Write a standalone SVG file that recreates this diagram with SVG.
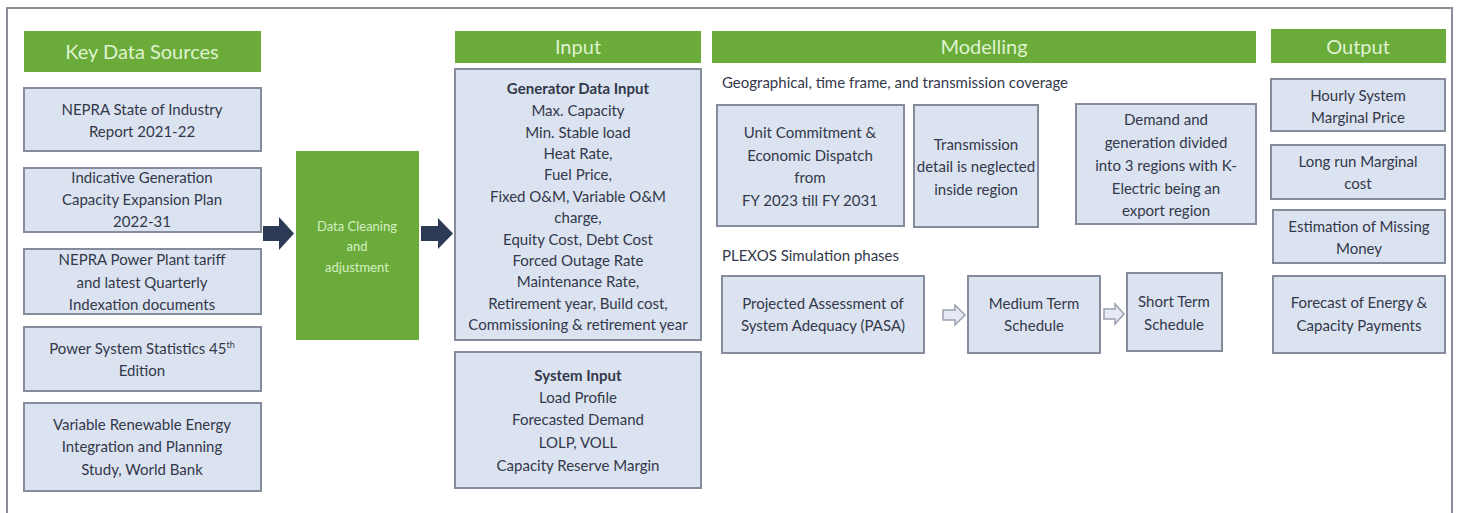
<svg xmlns="http://www.w3.org/2000/svg" width="1461" height="513" viewBox="0 0 1461 513">
<style>
.hdr{fill:#6aab3a}
.ht{font-family:Lato,"Liberation Sans",sans-serif;font-size:20px;fill:#dff3cf;text-anchor:middle}
.box{fill:#dbe3f1;stroke:#878c9c;stroke-width:2}
.t{font-family:Lato,"Liberation Sans",sans-serif;font-size:15px;fill:#33384a;text-anchor:middle}
.tl{font-family:Lato,"Liberation Sans",sans-serif;font-size:15px;fill:#33384a}
.b{font-weight:bold}
.dc{font-family:Lato,"Liberation Sans",sans-serif;font-size:13px;fill:#d6efc4;text-anchor:middle}
.nav{fill:#2c3a56}
.hol{fill:#e4e9f3;stroke:#9aa0b0;stroke-width:1.5}
</style>
<rect width="1461" height="513" fill="#ffffff"/>
<path d="M7 513 V8 H1452 V513" fill="none" stroke="#8a8e98" stroke-width="2"/>

<g id="sources">
<g id="hdr-sources"><rect class="hdr" x="24" y="31" width="237" height="41"/><text class="ht" x="142" y="59" font-size="21">Key Data Sources</text></g>
<g id="src1"><rect class="box" x="24" y="88" width="237" height="63"/><text class="t" x="142" y="115">NEPRA State of Industry</text><text class="t" x="142" y="137">Report 2021-22</text></g>
<g id="src2"><rect class="box" x="24" y="168" width="237" height="64"/><text class="t" x="142" y="183">Indicative Generation</text><text class="t" x="142" y="205">Capacity Expansion Plan</text><text class="t" x="142" y="227">2022-31</text></g>
<g id="src3"><rect class="box" x="24" y="249" width="237" height="65"/><text class="t" x="142" y="265">NEPRA Power Plant tariff</text><text class="t" x="142" y="288">and latest Quarterly</text><text class="t" x="142" y="310">Indexation documents</text></g>
<g id="src4"><rect class="box" x="24" y="327" width="237" height="64"/><text class="t" x="142" y="354">Power System Statistics 45<tspan font-size="9" dy="-6">th</tspan></text><text class="t" x="142" y="376">Edition</text></g>
<g id="src5"><rect class="box" x="24" y="403" width="237" height="88"/><text class="t" x="142" y="430">Variable Renewable Energy</text><text class="t" x="142" y="452">Integration and Planning</text><text class="t" x="142" y="475">Study, World Bank</text></g>
</g>

<g id="cleaning"><rect class="hdr" x="296" y="151" width="123" height="189"/><text class="dc" x="357" y="231">Data Cleaning</text><text class="dc" x="357" y="251">and</text><text class="dc" x="357" y="272">adjustment</text></g>

<g id="input">
<g id="hdr-input"><rect class="hdr" x="455" y="31" width="246" height="32"/><text class="ht" x="578" y="54">Input</text></g>
<g id="generator"><rect class="box" x="455" y="69" width="246" height="271"/>
<text class="t b" x="578" y="94">Generator Data Input</text>
<text class="t" x="578" y="116">Max. Capacity</text>
<text class="t" x="578" y="138">Min. Stable load</text>
<text class="t" x="578" y="159">Heat Rate,</text>
<text class="t" x="578" y="180">Fuel Price,</text>
<text class="t" x="578" y="202">Fixed O&amp;M, Variable O&amp;M</text>
<text class="t" x="578" y="223">charge,</text>
<text class="t" x="578" y="245">Equity Cost, Debt Cost</text>
<text class="t" x="578" y="266">Forced Outage Rate</text>
<text class="t" x="578" y="287">Maintenance Rate,</text>
<text class="t" x="578" y="309">Retirement year, Build cost,</text>
<text class="t" x="578" y="330">Commissioning &amp; retirement year</text>
</g>
<g id="system"><rect class="box" x="455" y="352" width="246" height="136"/>
<text class="t b" x="578" y="381">System Input</text>
<text class="t" x="578" y="403">Load Profile</text>
<text class="t" x="578" y="425">Forecasted Demand</text>
<text class="t" x="578" y="448">LOLP, VOLL</text>
<text class="t" x="578" y="471">Capacity Reserve Margin</text>
</g>
</g>

<g id="modelling">
<g id="hdr-modelling"><rect class="hdr" x="712" y="31" width="544" height="32"/><text class="ht" x="984" y="54">Modelling</text></g>
<text class="tl" x="722" y="88">Geographical, time frame, and transmission coverage</text>
<g id="m1"><rect class="box" x="717" y="105" width="187" height="121"/><text class="t" x="810" y="138">Unit Commitment &amp;</text><text class="t" x="810" y="161">Economic Dispatch</text><text class="t" x="810" y="183">from</text><text class="t" x="810" y="206">FY 2023 till FY 2031</text></g>
<g id="m2"><rect class="box" x="914" y="105" width="124" height="122"/><text class="t" x="976" y="150" font-size="14.5">Transmission</text><text class="t" x="976" y="172" font-size="14.5">detail is neglected</text><text class="t" x="976" y="195" font-size="14.5">inside region</text></g>
<g id="m3"><rect class="box" x="1076" y="104" width="180" height="120"/><text class="t" x="1166" y="125">Demand and</text><text class="t" x="1166" y="148">generation divided</text><text class="t" x="1166" y="171">into 3 regions with K-</text><text class="t" x="1166" y="194">Electric being an</text><text class="t" x="1166" y="216">export region</text></g>
<text class="tl" x="722" y="261">PLEXOS Simulation phases</text>
<g id="pasa"><rect class="box" x="722" y="276" width="202" height="77"/><text class="t" x="823" y="309">Projected Assessment of</text><text class="t" x="823" y="331">System Adequacy (PASA)</text></g>
<g id="mts"><rect class="box" x="968" y="276" width="132" height="77"/><text class="t" x="1034" y="309">Medium Term</text><text class="t" x="1034" y="331">Schedule</text></g>
<g id="sts"><rect class="box" x="1127" y="273" width="95" height="78"/><text class="t" x="1174" y="307">Short Term</text><text class="t" x="1174" y="330">Schedule</text></g>
</g>

<g id="output">
<g id="hdr-output"><rect class="hdr" x="1271" y="29" width="175" height="34"/><text class="ht" x="1358" y="54">Output</text></g>
<g id="o1"><rect class="box" x="1271" y="79" width="174" height="52"/><text class="t" x="1358" y="101">Hourly System</text><text class="t" x="1358" y="123">Marginal Price</text></g>
<g id="o2"><rect class="box" x="1271" y="145" width="174" height="54"/><text class="t" x="1358" y="167">Long run Marginal</text><text class="t" x="1358" y="189">cost</text></g>
<g id="o3"><rect class="box" x="1273" y="210" width="172" height="53"/><text class="t" x="1359" y="232">Estimation of Missing</text><text class="t" x="1359" y="254">Money</text></g>
<g id="o4"><rect class="box" x="1273" y="276" width="172" height="77"/><text class="t" x="1359" y="308">Forecast of Energy &amp;</text><text class="t" x="1359" y="331">Capacity Payments</text></g>
</g>

<g id="connectors">
<polygon class="nav" points="263,226 279,226 279,217 294,233.5 279,250 279,241 263,241"/>
<polygon class="nav" points="421,226 438,226 438,218 453,233.5 438,249 438,241 421,241"/>
<polygon class="hol" points="943,310 955,310 955,305 965,315 955,325 955,320 943,320"/>
<polygon class="hol" points="1104,309 1115,309 1115,304 1124,314 1115,324 1115,319 1104,319"/>
</g>
</svg>
